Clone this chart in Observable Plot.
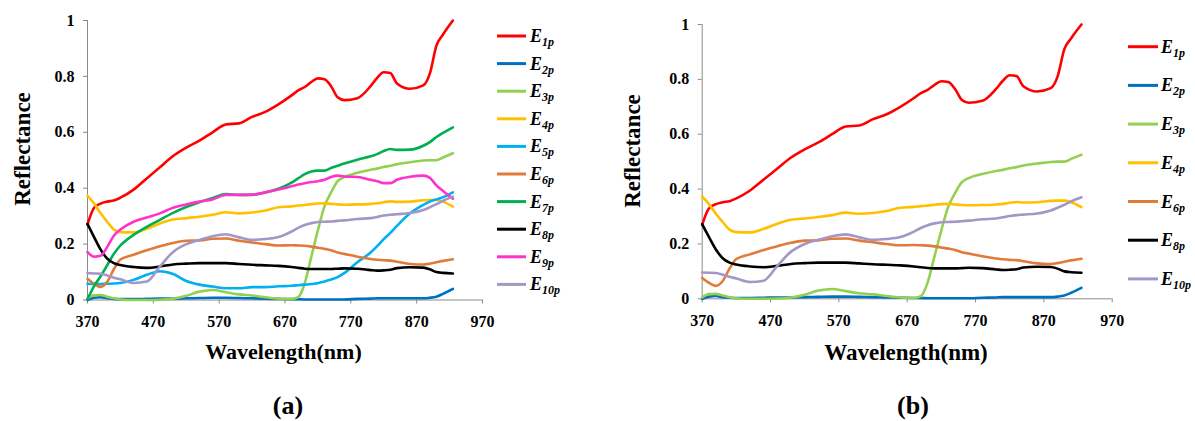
<!DOCTYPE html>
<html><head><meta charset="utf-8">
<script src="https://cdn.jsdelivr.net/npm/d3@7"></script>
<script src="https://cdn.jsdelivr.net/npm/@observablehq/plot@0.6"></script>
<style>
html,body{margin:0;padding:0;background:#fff;}
#root{position:relative;width:1195px;height:421px;overflow:hidden;font-family:"Liberation Serif",serif;}
.abs{position:absolute;}
.axlab{position:absolute;font-family:"Liberation Serif",serif;font-weight:bold;color:#000;white-space:nowrap;transform:translate(-50%,-50%);}
.rot{transform:translate(-50%,-50%) rotate(-90deg);}
</style></head><body><div id="root"></div>
<script>
const wavelengths = [370,380,390,400,410,420,440,460,480,500,520,540,560,580,600,620,640,660,680,690,700,710,720,730,740,750,760,780,800,810,820,830,840,860,880,890,900,910,925];
const E1 = [0.27,0.33,0.345,0.352,0.356,0.366,0.395,0.435,0.475,0.515,0.545,0.57,0.6,0.628,0.632,0.655,0.673,0.70,0.732,0.75,0.762,0.78,0.793,0.79,0.765,0.725,0.715,0.722,0.765,0.795,0.815,0.812,0.775,0.756,0.768,0.81,0.91,0.95,1.0];
const E2 = [0.0,0.008,0.01,0.006,0.004,0.003,0.003,0.004,0.005,0.005,0.006,0.007,0.008,0.008,0.007,0.006,0.005,0.004,0.003,0.003,0.002,0.002,0.002,0.002,0.002,0.002,0.002,0.004,0.005,0.006,0.006,0.006,0.006,0.006,0.006,0.008,0.012,0.022,0.04];
const E3 = [0.005,0.017,0.018,0.012,0.006,0.002,0.0,0.0,0.001,0.005,0.015,0.03,0.036,0.028,0.02,0.016,0.01,0.005,0.003,0.01,0.06,0.155,0.25,0.335,0.385,0.425,0.44,0.455,0.466,0.47,0.476,0.48,0.486,0.493,0.499,0.5,0.5,0.51,0.525];
const E4 = [0.373,0.345,0.31,0.28,0.252,0.243,0.242,0.255,0.274,0.288,0.293,0.298,0.305,0.314,0.31,0.313,0.32,0.332,0.335,0.338,0.34,0.343,0.345,0.346,0.344,0.342,0.341,0.342,0.344,0.346,0.35,0.353,0.351,0.352,0.357,0.358,0.358,0.352,0.334];
const E5 = [0.058,0.057,0.057,0.058,0.059,0.061,0.072,0.09,0.103,0.093,0.068,0.055,0.048,0.042,0.042,0.046,0.046,0.049,0.051,0.053,0.055,0.057,0.06,0.066,0.073,0.082,0.096,0.135,0.17,0.193,0.218,0.24,0.265,0.31,0.34,0.352,0.36,0.368,0.385];
const E6 = [0.076,0.058,0.047,0.065,0.11,0.145,0.162,0.178,0.192,0.204,0.212,0.213,0.219,0.22,0.212,0.206,0.2,0.195,0.196,0.195,0.194,0.191,0.187,0.183,0.178,0.17,0.165,0.155,0.147,0.144,0.142,0.141,0.137,0.129,0.127,0.13,0.135,0.14,0.146];
const E7 = [0.003,0.05,0.085,0.125,0.165,0.195,0.233,0.262,0.287,0.312,0.333,0.35,0.365,0.379,0.376,0.376,0.385,0.398,0.42,0.435,0.45,0.46,0.463,0.463,0.472,0.48,0.488,0.502,0.514,0.522,0.533,0.54,0.537,0.538,0.552,0.565,0.583,0.598,0.618];
const E8 = [0.272,0.225,0.18,0.148,0.132,0.125,0.118,0.115,0.12,0.127,0.13,0.132,0.132,0.132,0.129,0.126,0.124,0.122,0.118,0.115,0.112,0.111,0.111,0.111,0.111,0.112,0.113,0.112,0.107,0.105,0.106,0.108,0.114,0.117,0.116,0.11,0.1,0.097,0.095];
const E9 = [0.171,0.155,0.158,0.19,0.23,0.252,0.28,0.295,0.31,0.33,0.342,0.352,0.36,0.376,0.376,0.377,0.385,0.395,0.407,0.413,0.418,0.422,0.425,0.43,0.44,0.445,0.442,0.44,0.43,0.425,0.418,0.418,0.43,0.441,0.445,0.437,0.41,0.39,0.362];
const E10 = [0.096,0.095,0.094,0.088,0.08,0.074,0.061,0.066,0.12,0.172,0.2,0.215,0.228,0.235,0.224,0.215,0.218,0.225,0.245,0.258,0.268,0.275,0.279,0.28,0.281,0.283,0.285,0.29,0.293,0.297,0.302,0.305,0.307,0.311,0.322,0.332,0.343,0.355,0.37];

const seriesKeys = ["E1p","E2p","E3p","E4p","E5p","E6p","E7p","E8p","E9p","E10p"];
const seriesSubs = ["1p","2p","3p","4p","5p","6p","7p","8p","9p","10p"];
const seriesValues = [E1,E2,E3,E4,E5,E6,E7,E8,E9,E10];
const seriesColors = ["#FF0000","#0070C0","#92D050","#FFC000","#00B0F0","#E07B39","#00B050","#000000","#FF33CC","#A497C8"];
const panelASeries = ["E1p","E2p","E3p","E4p","E5p","E6p","E7p","E8p","E9p","E10p"];
const panelBSeries = ["E1p","E2p","E3p","E4p","E6p","E8p","E10p"];
const xTicks = [370,470,570,670,770,870,970];
const yTicks = [0,0.2,0.4,0.6,0.8,1];
const captions = ["(a)","(b)"];
const xLabel = "Wavelength(nm)";
const yLabel = "Reflectance";

const root = document.getElementById("root");

function rowsFor(names){
  return names.flatMap(n => {
    const vals = seriesValues[seriesKeys.indexOf(n)];
    return wavelengths.map((w,i)=>({s:n,w,v:vals[i]}));
  });
}

function panel(names, cfg){
  const chart = Plot.plot({
    width: cfg.width, height: cfg.height,
    marginLeft: cfg.ml, marginRight: cfg.mr, marginTop: cfg.mt, marginBottom: cfg.mb,
    x: {domain:[370,970]},
    y: {domain:[0,1]},
    color: {domain: seriesKeys, range: seriesColors},
    style: {fontFamily:'"Liberation Serif", serif', fontSize:"16px", fontWeight:"bold", color:"#000", background:"transparent", overflow:"visible"},
    marks: [
      Plot.ruleX([370], {stroke:"#8a8a8a", strokeWidth:1}),
      Plot.ruleY([0], {stroke:"#8a8a8a", strokeWidth:1}),
      Plot.axisX({ticks:xTicks, tickSize:4, tickPadding:12, stroke:"#8a8a8a", fill:"#000", label:null, tickFormat:d=>String(d)}),
      Plot.axisY({ticks:yTicks, tickSize:4, tickPadding:9, stroke:"#8a8a8a", fill:"#000", label:null, tickFormat:d=>String(d)}),
      Plot.line(rowsFor(names), {x:"w", y:"v", z:"s", stroke:"s", curve:"monotone-x", strokeWidth:2.6, strokeLinejoin:"round", strokeLinecap:"round"})
    ]
  });
  chart.classList.add("abs");
  chart.style.left = cfg.left+"px";
  chart.style.top = "0px";
  root.appendChild(chart);
}

function legend(names, cfg){
  const svg = d3.create("svg").attr("width",cfg.w).attr("height",cfg.h)
    .style("position","absolute").style("left",cfg.left+"px").style("top",cfg.top+"px").style("overflow","visible");
  names.forEach((n,i)=>{
    const k = seriesKeys.indexOf(n);
    const y = cfg.y0 + i*cfg.step;
    svg.append("line").attr("x1",0).attr("x2",cfg.lineLen).attr("y1",y).attr("y2",y)
      .attr("stroke",seriesColors[k]).attr("stroke-width",3);
    const t = svg.append("text").attr("x",cfg.lineLen+cfg.gap).attr("y",y+6)
      .attr("font-family",'"Liberation Serif", serif').attr("font-style","italic").attr("font-weight","bold")
      .attr("font-size",18).attr("fill","#000");
    t.append("tspan").text("E");
    t.append("tspan").attr("dy",4).attr("font-size",12).text(seriesSubs[k]);
  });
  root.appendChild(svg.node());
}

function addLabel(text, x, y, size, rot){
  const d = document.createElement("div");
  d.className = "axlab" + (rot ? " rot" : "");
  d.style.left = x+"px"; d.style.top = y+"px"; d.style.fontSize = size+"px";
  d.textContent = text;
  root.appendChild(d);
}

panel(panelASeries, {left:0, width:490, height:370, ml:87, mr:8, mt:20, mb:70.5});
panel(panelBSeries, {left:600, width:520, height:370, ml:101.7, mr:8.3, mt:24, mb:71.7});

legend(panelASeries, {left:497, top:0, w:80, h:300, y0:36, step:27.6, lineLen:29, gap:4});
legend(panelBSeries, {left:1128, top:0, w:66, h:300, y0:46.7, step:38.7, lineLen:30, gap:3});

addLabel(yLabel, 23, 149, 23, true);
addLabel(yLabel, 633, 151, 23, true);
addLabel(xLabel, 283.5, 352, 22, false);
addLabel(xLabel, 906, 353, 23, false);
addLabel(captions[0], 288, 406, 26, false);
addLabel(captions[1], 913, 406, 26, false);
</script></body></html>
